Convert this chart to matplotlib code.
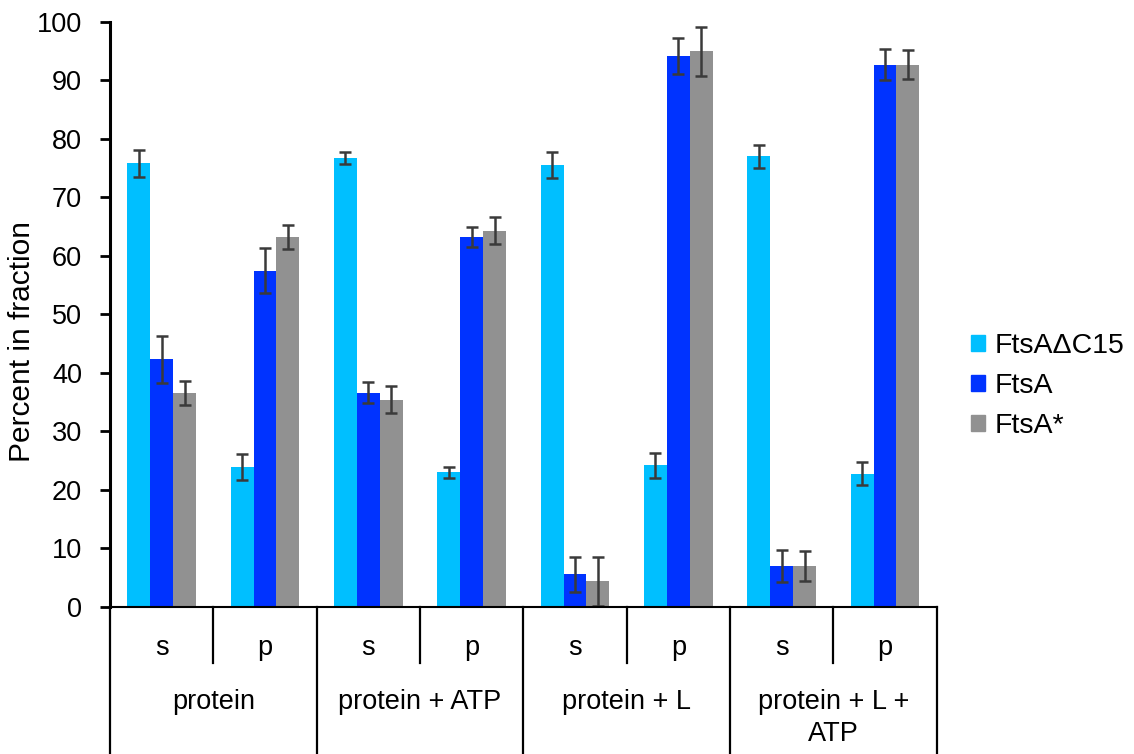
import numpy as np
import matplotlib.pyplot as plt
from matplotlib.patches import Patch

plt.rcParams['font.family'] = ['Liberation Sans', 'DejaVu Sans']

# fractions (s = supernatant, p = pellet) for each condition
groups = ['protein', 'protein + ATP', 'protein + L', 'protein + L +\nATP']
fractions = ['s', 'p']
series = ['FtsA\u0394C15', 'FtsA', 'FtsA*']

# values per x position: protein s, protein p, +ATP s, +ATP p, +L s, +L p, +L+ATP s, +L+ATP p
dc15_vals = [75.8, 23.9, 76.7, 23.0, 75.5, 24.2, 77.0, 22.8]
ftsa_vals = [42.3, 57.5, 36.6, 63.2, 5.6, 94.2, 7.0, 92.7]
star_vals = [36.6, 63.2, 35.4, 64.3, 4.4, 95.0, 7.0, 92.7]

dc15_err = [2.3, 2.2, 1.0, 0.95, 2.2, 2.2, 2.0, 2.0]
ftsa_err = [4.0, 3.9, 1.8, 1.7, 3.0, 3.1, 2.7, 2.6]
star_err = [2.1, 2.1, 2.3, 2.3, 4.2, 4.2, 2.5, 2.5]

colors = ['#00BFFF', '#0033FF', '#919191']
fs = 19.5

fig = plt.figure(figsize=(11.34, 7.54), dpi=100)
ax = fig.add_axes([0.097, 0.195, 0.729, 0.776])

n = len(dc15_vals)
x = np.arange(n)
width = 0.222
all_vals = [dc15_vals, ftsa_vals, star_vals]
all_errs = [dc15_err, ftsa_err, star_err]
for i, (vals, errs) in enumerate(zip(all_vals, all_errs)):
    ax.bar(x + (i - 1) * width, vals, width, color=colors[i], label=series[i],
           yerr=errs, capsize=4,
           error_kw=dict(ecolor='#3a3a3a', elinewidth=1.8, capthick=1.8))

ax.set_xlim(-0.5, n - 0.5)
ax.set_ylim(0, 100)
ax.set_yticks(range(0, 101, 10))
ax.tick_params(axis='y', labelsize=fs, width=2, length=7, pad=13,
               direction='out')
ax.set_xticks([])
ax.set_ylabel('Percent in fraction', fontsize=21.5)
ax.yaxis.set_label_coords(-0.09, 0.453)

for side in ['top', 'right']:
    ax.spines[side].set_visible(False)
ax.spines['left'].set_linewidth(2.2)
ax.spines['bottom'].set_linewidth(1.5)

# category table under the axis
trans = ax.get_xaxis_transform()
for k in range(len(groups) + 1):
    xb = -0.5 + 2 * k
    ax.plot([xb, xb], [0, -0.26], transform=trans, color='black', lw=1.6,
            clip_on=False)
for k in range(len(groups)):
    xm = 0.5 + 2 * k
    ax.plot([xm, xm], [0, -0.096], transform=trans, color='black', lw=1.6,
            clip_on=False)
    ax.text(2 * k, -0.082, fractions[0], transform=trans, ha='center',
            va='baseline', fontsize=fs)
    ax.text(2 * k + 1, -0.082, fractions[1], transform=trans, ha='center',
            va='baseline', fontsize=fs)
    ax.text(2 * k + 0.5, -0.14, groups[k], transform=trans, ha='center',
            va='top', fontsize=fs, linespacing=1.3)

handles = [Patch(color=c) for c in colors]
fig.legend(handles, series, loc='center left', bbox_to_anchor=(0.856, 0.488),
           frameon=False, fontsize=20.5, handlelength=0.5, handleheight=0.5,
           handletextpad=0.35, labelspacing=0.5, borderpad=0,
           borderaxespad=0)

fig.savefig('out.png', dpi=100)
